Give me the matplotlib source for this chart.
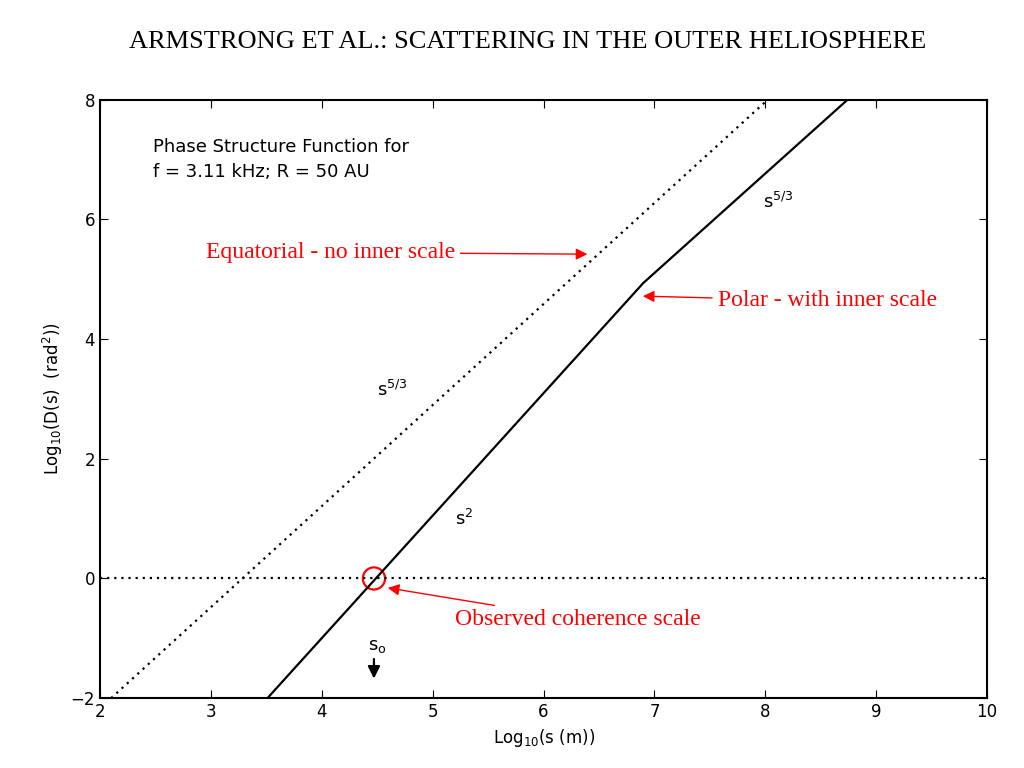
import matplotlib
matplotlib.use("Agg")
import matplotlib.pyplot as plt
from matplotlib.patches import Ellipse

eq_x = [2.1, 8.02]
eq_y = [-2.0, 8.0]
pol_x = [3.51, 6.9, 8.74]
pol_y = [-2.0, 4.94, 8.0]
s0 = 4.47

fig = plt.figure(figsize=(10.24, 7.68), dpi=100)
ax = fig.add_axes([0.0977, 0.091, 0.8663, 0.779])
ax.plot(eq_x, eq_y, 'k', ls=(0, (1, 2.2)), lw=1.6)
ax.plot(pol_x, pol_y, 'k', lw=1.6)
ax.axhline(0, color='k', ls=(0, (1, 2.2)), lw=1.6)
ax.set_xlim(2, 10); ax.set_ylim(-2, 8)
ax.set_xticks(range(2, 11)); ax.set_yticks([-2, 0, 2, 4, 6, 8])
ax.tick_params(direction='in', top=True, right=True, labelsize=12, length=6)
ax.set_yticklabels(['\u22122', '0', '2', '4', '6', '8'])
for s in ax.spines.values(): s.set_linewidth(1.5)
ax.set_xlabel(r'Log$_{10}$(s (m))', fontsize=12)
ax.set_ylabel(r'Log$_{10}$(D(s)  (rad$^2$))', fontsize=12)
ax.text(2.48, 7.0, 'Phase Structure Function for\nf = 3.11 kHz; R = 50 AU', fontsize=13, va='center', linespacing=1.5)
ax.text(4.5, 3.05, r's$^{5/3}$', fontsize=13)
ax.text(7.98, 6.2, r's$^{5/3}$', fontsize=13)
ax.text(5.2, 0.9, r's$^{2}$', fontsize=13)
ax.text(4.42, -1.2, r's$_{\rm o}$', fontsize=13)
ax.annotate('', xy=(s0, -1.72), xytext=(s0, -1.3), arrowprops=dict(arrowstyle='-|>', color='k', lw=1.6, mutation_scale=18))
ser = ['Liberation Serif']
ax.annotate('Equatorial - no inner scale', xy=(6.42, 5.42), xytext=(5.2, 5.45), color='red', fontsize=17,
            family=ser, ha='right', va='center', arrowprops=dict(arrowstyle='-|>', color='red', lw=1))
ax.annotate('Polar - with inner scale', xy=(6.87, 4.72), xytext=(7.57, 4.64), color='red', fontsize=17,
            family=ser, ha='left', va='center', arrowprops=dict(arrowstyle='-|>', color='red', lw=1))
ax.annotate('Observed coherence scale', xy=(4.57, -0.15), xytext=(5.2, -0.68), color='red', fontsize=17,
            family=ser, ha='left', va='center', arrowprops=dict(arrowstyle='-|>', color='red', lw=1))
ax.add_patch(Ellipse((s0, 0), 0.2, 0.37, fill=False, ec='red', lw=1.6))
fig.text(0.515, 0.938, 'ARMSTRONG ET AL.: SCATTERING IN THE OUTER HELIOSPHERE', ha='center', fontsize=19, family=ser)
fig.savefig('out.png')
